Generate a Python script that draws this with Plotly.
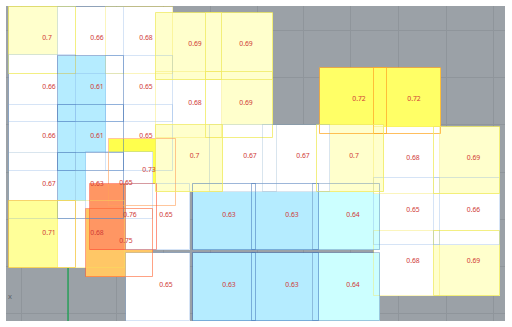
import plotly.graph_objects as go

# Rooms in paint order (later rooms cover earlier ones)
room_value = [0.7, 0.66, 0.68, 0.66, 0.61, 0.65, 0.66, 0.61, 0.65, 0.67, 0.63, 0.73, 0.65, 0.71, 0.68, 0.75, 0.76,
              0.69, 0.68, 0.69, 0.69,
              0.65, 0.65, 0.68, 0.69, 0.66, 0.65,
              0.64, 0.64, 0.63, 0.63, 0.63, 0.63,
              0.72, 0.72, 0.69, 0.68, 0.7, 0.67, 0.67, 0.7]
room_left = [9, 58, 106, 9, 58, 106, 9, 58, 106, 9, 58, 109, 86, 9, 58, 86, 90,
             206, 156, 156, 206,
             126, 126, 374, 434, 434, 374,
             313, 313, 252, 252, 193, 193,
             320, 374, 434, 374, 317, 210, 263, 156]
room_right = [76, 124, 173, 76, 124, 173, 76, 124, 173, 76, 124, 176, 153, 76, 125, 153, 157,
              273, 222, 222, 273,
              190, 190, 440, 500, 500, 440,
              380, 380, 319, 319, 256, 256,
              387, 441, 500, 440, 384, 277, 330, 223]
room_top = [7, 7, 7, 55, 56, 56, 105, 105, 105, 153, 153, 139, 152, 201, 201, 209, 184,
            72, 72, 13, 13,
            184, 253, 231, 231, 178, 178,
            184, 253, 184, 253, 184, 253,
            68, 68, 127, 127, 125, 125, 125, 125]
room_bottom = [74, 74, 74, 122, 122, 122, 171, 171, 171, 219, 219, 206, 219, 268, 268, 277, 250,
               138, 138, 80, 80,
               250, 321, 296, 296, 245, 245,
               250, 321, 250, 321, 250, 321,
               134, 134, 194, 194, 192, 192, 192, 192]

# Value labels
label_value = [0.7, 0.66, 0.68, 0.66, 0.61, 0.65, 0.66, 0.61, 0.65, 0.67, 0.63, 0.65, 0.73, 0.71, 0.68, 0.76, 0.75,
               0.65, 0.65, 0.69, 0.69, 0.68, 0.69, 0.7, 0.67, 0.67, 0.7,
               0.63, 0.63, 0.64, 0.63, 0.63, 0.64, 0.72, 0.72, 0.68, 0.69, 0.65, 0.66, 0.68, 0.69]
label_x = [47, 97, 146, 49, 97, 146, 49, 97, 146, 49, 97, 126, 149, 49, 97, 130, 126,
           166, 166, 195, 246, 195, 246, 194.5, 250, 303, 354,
           229, 292, 353, 229, 292, 353, 359, 414, 413, 473.5, 413, 473.5, 413, 473.5]
label_y = [38, 38, 38, 87, 87, 87, 136, 136, 136, 184, 184, 183, 170, 233, 233, 215, 241,
           215, 285, 44, 44, 103, 103, 156, 156, 156, 156,
           215, 215, 215, 285, 285, 285, 99, 99, 158.5, 158.5, 210, 210, 261, 261]

grid_x = [21, 68, 116, 163, 210, 257, 303, 350, 398, 446, 493]
grid_y = [30, 77, 124, 172, 219, 266, 313]
axis_x = [68, 68]
axis_y = [268, 321]

fill_by_value = {0.61: "#b5ecff", 0.63: "#b5ecff", 0.64: "#ccffff", 0.65: "#ffffff", 0.66: "#ffffff",
                 0.67: "#ffffff", 0.68: "#ffffff", 0.69: "#ffffcc", 0.7: "#ffffcc", 0.71: "#ffff99",
                 0.72: "#ffff66", 0.73: "#ffff4d", 0.75: "#ffc766", 0.76: "#ff9663"}
line_by_value = {0.61: "rgba(60,110,180,0.5)", 0.63: "rgba(60,110,180,0.5)", 0.64: "rgba(90,130,180,0.45)",
                 0.65: "rgba(120,165,225,0.3)", 0.66: "rgba(120,165,225,0.3)", 0.67: "rgba(130,170,200,0.3)",
                 0.68: "rgba(245,230,90,0.4)", 0.69: "rgba(240,235,100,0.8)", 0.7: "rgba(240,235,100,0.8)",
                 0.71: "rgba(245,200,70,0.8)", 0.72: "rgba(255,170,40,0.75)", 0.73: "rgba(255,160,90,0.6)",
                 0.75: "rgba(255,100,50,0.6)", 0.76: "rgba(255,80,50,0.6)"}

centers = [(a + b) / 2 for a, b in zip(room_left, room_right)]
widths = [b - a for a, b in zip(room_left, room_right)]
heights = [b - t for t, b in zip(room_top, room_bottom)]

fig = go.Figure()
# opaque room fills
fig.add_trace(go.Bar(x=centers, y=heights, base=room_top, width=widths,
                     marker=dict(color=[fill_by_value[v] for v in room_value], line=dict(width=0))))
# room outlines on top of every fill
fig.add_trace(go.Bar(x=centers, y=heights, base=room_top, width=widths,
                     marker=dict(color="rgba(0,0,0,0)",
                                 line=dict(width=1, color=[line_by_value[v] for v in room_value]))))
fig.add_trace(go.Scatter(x=axis_x, y=axis_y, mode="lines", line=dict(color="#0fa24a", width=1.2)))
fig.add_trace(go.Scatter(x=label_x, y=label_y, mode="text", text=[str(v) for v in label_value],
                         textposition="middle center",
                         textfont=dict(family="Noto Sans", size=6.8, color="#cf3a36")))
fig.add_trace(go.Scatter(x=[10], y=[297], mode="text", text=["x"], textposition="middle center",
                         textfont=dict(family="Noto Sans", size=7.5, color="#5d6369")))

fig.update_layout(
    width=512, height=327, autosize=False, barmode="overlay", bargap=0, showlegend=False,
    margin=dict(l=6, r=7, t=6, b=6), paper_bgcolor="#ffffff", plot_bgcolor="#9ba1a7",
    xaxis=dict(range=[6, 505], tickvals=grid_x, showticklabels=False, ticks="", showgrid=True,
               gridcolor="#8f959b", gridwidth=1, zeroline=False, showline=False),
    yaxis=dict(range=[321, 6], tickvals=grid_y, showticklabels=False, ticks="", showgrid=True,
               gridcolor="#8f959b", gridwidth=1, zeroline=False, showline=False),
)
fig.write_html("out.html", config={"displayModeBar": False},
               post_script="document.body.style.margin='0';document.documentElement.style.overflow='hidden';")
